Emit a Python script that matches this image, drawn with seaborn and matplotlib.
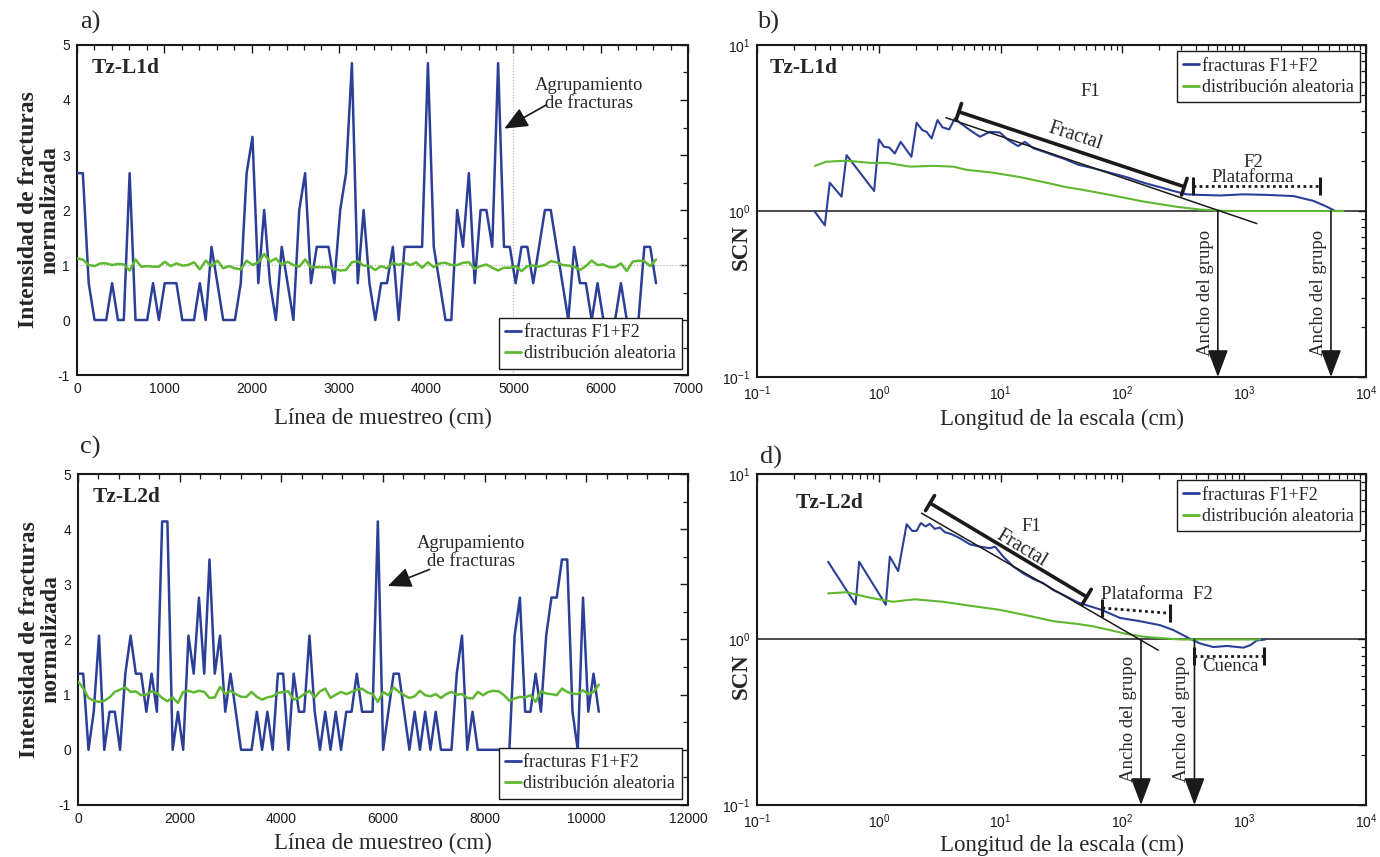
import numpy as np
import pandas as pd
import matplotlib
matplotlib.use("Agg")
import matplotlib.pyplot as plt
import matplotlib.ticker as mticker
from matplotlib.lines import Line2D
import seaborn as sns

# ---------------- data ----------------
# panel a: Tz-L1d sampling line (sample spacing ~67 cm)
a_step = 67.0
a_fract = [2.67, 2.67, 0.67, 0, 0, 0, 0.67, 0, 0, 2.67,
           0, 0, 0, 0.67, 0, 0.67, 0.67, 0.67, 0, 0,
           0, 0.67, 0, 1.33, 0.67, 0, 0, 0, 0.67, 2.67,
           3.33, 0.67, 2.0, 0.67, 0, 1.33, 0.67, 0, 2.0, 2.67,
           0.67, 1.33, 1.33, 1.33, 0.67, 2.0, 2.67, 4.67, 0.67, 2.0,
           0.67, 0, 0.67, 0.67, 1.33, 0, 1.33, 1.33, 1.33, 1.33,
           4.67, 1.33, 0.67, 0, 0, 2.0, 1.33, 2.67, 0.67, 2.0,
           2.0, 1.33, 4.67, 1.33, 1.33, 0.67, 1.33, 1.33, 0.67, 1.33,
           2.0, 2.0, 1.33, 0.67, 0, 1.33, 0.67, 0.67, 0, 0.67,
           0, 0, 0, 0.67, 0, 0, 0, 1.33, 1.33, 0.67]
a_rand = [1.12, 1.10, 1.00, 0.98, 1.03, 1.03, 1.00, 1.02, 1.01, 0.90,
          1.10, 0.97, 0.98, 0.97, 0.97, 1.06, 0.98, 1.03, 0.99, 1.00,
          1.05, 0.92, 1.08, 0.98, 1.08, 0.94, 0.98, 0.94, 0.92, 1.08,
          1.00, 1.05, 1.20, 1.06, 1.12, 1.00, 1.06, 1.00, 0.97, 1.10,
          0.96, 0.96, 0.96, 0.96, 0.93, 0.90, 0.91, 1.05, 1.07, 0.99,
          0.98, 0.91, 0.98, 0.94, 1.04, 1.00, 1.04, 1.00, 1.05, 0.95,
          1.05, 0.96, 1.03, 1.04, 1.00, 1.00, 1.04, 1.05, 0.93, 0.98,
          1.01, 0.95, 0.90, 0.95, 0.95, 0.98, 0.89, 0.98, 0.99, 0.97,
          1.00, 1.07, 1.05, 1.00, 0.99, 0.97, 0.91, 0.98, 1.08, 1.00,
          1.01, 0.96, 0.96, 1.03, 0.89, 1.06, 1.08, 1.07, 0.98, 1.10]

# panel c: Tz-L2d sampling line (sample spacing ~103.5 cm)
c_step = 103.5
c_fract = [1.38, 1.38, 0, 0.69, 2.07, 0, 0.69, 0.69, 0, 1.38,
           2.07, 1.38, 1.38, 0.69, 1.38, 0.69, 4.14, 4.14, 0, 0.69,
           0, 2.07, 1.38, 2.76, 1.38, 3.45, 1.38, 2.07, 0.69, 1.38,
           0.69, 0, 0, 0, 0.69, 0, 0.69, 0, 1.38, 1.38,
           0, 1.38, 0.69, 0.69, 2.07, 0.69, 0, 0.69, 0, 0.69,
           0, 0.69, 0.69, 1.38, 0.69, 0.69, 0.69, 4.14, 0, 0.69,
           1.38, 1.38, 0.69, 0, 0.69, 0, 0.69, 0, 0.69, 0,
           0, 0, 1.38, 2.07, 0, 0.69, 0, 0, 0, 0,
           0, 0, 0, 2.07, 2.76, 0.69, 0.69, 1.38, 0.69, 2.07,
           2.76, 2.76, 3.45, 3.45, 0.69, 0, 2.76, 0.69, 1.38, 0.69]
c_rand = [1.24, 1.12, 0.94, 0.89, 0.87, 0.89, 0.95, 1.05, 1.09, 1.13,
          1.05, 1.06, 0.99, 1.00, 1.06, 1.03, 0.94, 0.88, 0.95, 0.85,
          1.05, 1.07, 1.04, 1.07, 1.05, 0.94, 0.95, 1.14, 1.01, 1.07,
          1.01, 0.96, 0.96, 1.05, 0.96, 0.91, 0.95, 0.97, 1.03, 1.05,
          1.06, 0.91, 0.94, 1.01, 1.07, 0.95, 1.06, 1.11, 0.94, 1.00,
          1.05, 1.01, 1.05, 1.09, 1.11, 1.04, 1.01, 0.87, 1.05, 0.99,
          1.13, 1.05, 0.99, 0.94, 0.97, 1.07, 0.99, 0.97, 1.01, 0.94,
          1.01, 1.05, 1.00, 1.01, 0.94, 0.93, 1.05, 0.99, 1.05, 1.07,
          1.06, 0.99, 0.89, 0.93, 0.96, 0.95, 0.99, 0.87, 1.06, 1.02,
          1.01, 0.99, 1.11, 1.05, 1.02, 1.01, 1.08, 1.01, 1.05, 1.18]

# panel b: SCN vs scale, Tz-L1d
b_scale = [0.298, 0.36, 0.395, 0.494, 0.543, 0.914, 1.0, 1.1, 1.22, 1.35,
           1.51, 1.85, 2.04, 2.28, 2.46, 2.71, 3.03, 3.33, 3.78, 4.21,
           4.63, 5.59, 6.76, 8.16, 9.87, 11.5, 13.9, 15.8, 18.5, 22.4,
           27.0, 32.7, 43.4, 57.7, 79, 108, 149, 204, 262, 337,
           434, 634, 986, 1532, 2537, 3705, 4773, 5585, 6535]
b_fract = [0.99, 0.82, 1.48, 1.22, 2.17, 1.32, 2.70, 2.44, 2.41, 2.22,
           2.61, 2.12, 3.40, 3.07, 3.00, 2.74, 3.53, 3.19, 3.10, 3.62,
           3.40, 3.07, 2.80, 3.00, 2.97, 2.68, 2.46, 2.61, 2.39, 2.28,
           2.17, 2.07, 1.90, 1.81, 1.70, 1.60, 1.48, 1.39, 1.32, 1.26,
           1.25, 1.24, 1.26, 1.25, 1.23, 1.15, 1.06, 1.00, 1.00]
b_rscale = [0.298, 0.37, 0.543, 0.84, 1.16, 1.8, 2.79, 4.08, 5.25, 8.7,
            14.4, 23.8, 34.8, 44.8, 79, 149, 279, 434, 718, 1850, 6535]
b_rand = [1.87, 1.98, 2.01, 1.95, 1.95, 1.85, 1.87, 1.85, 1.77, 1.70,
          1.60, 1.48, 1.39, 1.35, 1.25, 1.14, 1.06, 1.02, 1.00, 1.00, 1.00]

# panel d: SCN vs scale, Tz-L2d
d_scale = [0.383, 0.644, 0.689, 1.14, 1.23, 1.44, 1.69, 1.88, 2.04, 2.21,
           2.42, 2.62, 2.88, 3.17, 3.48, 3.95, 4.63, 5.59, 6.76, 8.17,
           8.98, 10.5, 12.7, 15.3, 18.5, 22.4, 27.0, 32.7, 43.4, 67.4,
           95.4, 139, 204, 262, 359, 434, 558, 718, 986, 1118, 1268, 1484]
d_fract = [2.95, 1.63, 2.95, 1.62, 3.17, 2.59, 4.97, 4.53, 4.53, 5.05,
           4.82, 5.00, 4.66, 4.75, 4.45, 4.33, 4.09, 3.76, 3.64, 3.56,
           3.64, 3.17, 2.76, 2.51, 2.32, 2.19, 1.99, 1.86, 1.67, 1.51,
           1.35, 1.29, 1.22, 1.14, 1.01, 0.946, 0.90, 0.914, 0.893, 0.923, 0.986, 1.00]
d_rscale = [0.383, 0.543, 0.84, 1.31, 1.97, 3.37, 5.59, 9.86, 16.3, 27.0,
            43.4, 57.7, 79, 108, 149, 204, 300, 1349]
d_rand = [1.90, 1.93, 1.79, 1.69, 1.75, 1.69, 1.60, 1.51, 1.40, 1.29,
          1.24, 1.20, 1.14, 1.08, 1.04, 1.02, 1.00, 1.00]

series_labels = ["fracturas F1+F2", "distribución aleatoria"]

# ---------------- style ----------------
BLUE = "#2c3f98"
GREEN = "#5fb830"
SERIF = ["Liberation Serif", "DejaVu Serif"]
SANS = "Liberation Sans"

sns.set_theme(style="white")
plt.rcParams["font.family"] = SERIF
plt.rcParams["axes.unicode_minus"] = False
plt.rcParams["mathtext.fontset"] = "custom"
plt.rcParams["mathtext.rm"] = "Liberation Sans"
plt.rcParams["mathtext.it"] = "Liberation Sans:italic"
plt.rcParams["mathtext.bf"] = "Liberation Sans:bold"

fig = plt.figure(figsize=(13.8, 8.57), dpi=100)
ax_a = fig.add_axes([0.0558, 0.5624, 0.4428, 0.3851])
ax_b = fig.add_axes([0.5486, 0.5601, 0.4413, 0.3874])
ax_c = fig.add_axes([0.0565, 0.0607, 0.4420, 0.3862])
ax_d = fig.add_axes([0.5486, 0.0607, 0.4413, 0.3862])

LBL = 16.5      # axis label size
ANN = 13.5      # annotation size


def style_axes(ax):
    for s in ax.spines.values():
        s.set_color("k")
        s.set_linewidth(1.5)
    ax.tick_params(which="both", direction="in", top=True, right=True,
                   colors="k", labelcolor="k", labelfontfamily=SANS)
    ax.tick_params(which="major", length=6, width=1.0, labelsize=10, pad=5)
    ax.tick_params(which="minor", length=3.5, width=0.9)


def add_legend(ax, loc):
    handles = [Line2D([], [], color=BLUE, lw=2), Line2D([], [], color=GREEN, lw=2)]
    leg = ax.legend(handles=handles, labels=series_labels, loc=loc, fontsize=13,
                    frameon=True, fancybox=False, edgecolor="k", framealpha=1,
                    handlelength=0.85, handletextpad=0.15, borderpad=0.35,
                    labelspacing=0.25, borderaxespad=0.35)
    leg.get_frame().set_linewidth(1.0)
    leg.set_zorder(10)


def linear_panel(ax, step, fract, rand, xmax, xmajor, xminor, tag):
    x = np.arange(len(fract)) * step
    df = pd.DataFrame({"x": x, "fract": fract, "rand": rand})
    sns.lineplot(data=df, x="x", y="fract", ax=ax, color=BLUE, lw=1.8,
                 estimator=None, sort=False, zorder=3)
    sns.lineplot(data=df, x="x", y="rand", ax=ax, color=GREEN, lw=1.8,
                 estimator=None, sort=False, zorder=4)
    ax.set_xlim(0, xmax)
    ax.set_ylim(-1, 5)
    ax.xaxis.set_major_locator(mticker.MultipleLocator(xmajor))
    ax.xaxis.set_minor_locator(mticker.MultipleLocator(xminor))
    ax.yaxis.set_major_locator(mticker.MultipleLocator(1))
    ax.yaxis.set_minor_locator(mticker.MultipleLocator(0.5))
    style_axes(ax)
    ax.set_xlabel("Línea de muestreo (cm)", fontsize=LBL, family=SERIF)
    ax.set_ylabel("Intensidad de fracturas\nnormalizada", fontsize=17,
                  fontweight="bold", family=SERIF, linespacing=1.0)
    ax.text(0.024, 0.93, tag, transform=ax.transAxes, fontsize=15.5,
            fontweight="bold", ha="left", va="center", family=SERIF)
    add_legend(ax, "lower right")


def log_panel(ax, scale, fract, rscale, rand, tag, tagx, tagy):
    sns.lineplot(x=scale, y=fract, ax=ax, color=BLUE, lw=1.5,
                 estimator=None, sort=False, zorder=3)
    sns.lineplot(x=rscale, y=rand, ax=ax, color=GREEN, lw=1.5,
                 estimator=None, sort=False, zorder=4)
    ax.set_xscale("log")
    ax.set_yscale("log")
    ax.set_xlim(0.1, 1e4)
    ax.set_ylim(0.1, 10)
    ax.xaxis.set_major_locator(mticker.LogLocator(base=10, numticks=10))
    ax.xaxis.set_minor_locator(mticker.LogLocator(base=10, subs=np.arange(2, 10), numticks=10))
    ax.yaxis.set_major_locator(mticker.LogLocator(base=10, numticks=10))
    ax.yaxis.set_minor_locator(mticker.LogLocator(base=10, subs=np.arange(2, 10), numticks=10))
    ax.xaxis.set_minor_formatter(mticker.NullFormatter())
    ax.yaxis.set_minor_formatter(mticker.NullFormatter())
    style_axes(ax)
    ax.axhline(1.0, color="k", lw=1.1, zorder=2)
    ax.set_xlabel("Longitud de la escala (cm)", fontsize=LBL, family=SERIF)
    ax.set_ylabel("SCN", fontsize=16.5, fontweight="bold", family=SERIF)
    ax.text(tagx, tagy, tag, transform=ax.transAxes, fontsize=15.5,
            fontweight="bold", ha="left", va="center", family=SERIF)
    add_legend(ax, "upper right")


def down_arrow(ax, x):
    ax.annotate("", xy=(x, 0.1), xytext=(x, 1.0),
                arrowprops=dict(arrowstyle="-|>,head_length=0.85,head_width=0.32",
                                mutation_scale=20, lw=1.2, color="k",
                                shrinkA=0, shrinkB=0), zorder=5)


def bar(ax, p0, p1, lw=2.6):
    ax.annotate("", xy=p1, xytext=p0,
                arrowprops=dict(arrowstyle="|-|,widthA=0.45,widthB=0.45",
                                mutation_scale=14, lw=lw, color="k",
                                shrinkA=0, shrinkB=0), zorder=5)


def dotted_bar(ax, p0, p1):
    ax.plot([p0[0], p1[0]], [p0[1], p1[1]], color="k", lw=2.0,
            ls=(0, (1, 1.2)), zorder=5)
    ax.plot([p0[0], p1[0]], [p0[1], p1[1]], color="k", ls="none",
            marker="|", ms=13, mew=2.2, zorder=5)


# ---------------- panel a ----------------
linear_panel(ax_a, a_step, a_fract, a_rand, 7000, 1000, 200, "Tz-L1d")
ax_a.axvline(5000, color="#b0b0b0", lw=0.8, ls=":", zorder=1)
ax_a.axhline(1.0, color="#b0b0b0", lw=0.8, ls=":", zorder=1)
ax_a.text(5860, 4.10, "Agrupamiento\nde fracturas", fontsize=ANN, ha="center",
          va="center", linespacing=1.05, family=SERIF)
ax_a.annotate("", xy=(4895, 3.48), xytext=(5375, 3.91),
              arrowprops=dict(arrowstyle="-|>,head_length=0.8,head_width=0.35",
                              mutation_scale=18, lw=1.2, color="k",
                              shrinkA=0, shrinkB=0))

# ---------------- panel c ----------------
linear_panel(ax_c, c_step, c_fract, c_rand, 12000, 2000, 400, "Tz-L2d")
ax_c.text(7740, 3.58, "Agrupamiento\nde fracturas", fontsize=ANN, ha="center",
          va="center", linespacing=1.05, family=SERIF)
ax_c.annotate("", xy=(6096, 2.97), xytext=(6916, 3.27),
              arrowprops=dict(arrowstyle="-|>,head_length=0.8,head_width=0.35",
                              mutation_scale=18, lw=1.2, color="k",
                              shrinkA=0, shrinkB=0))

# ---------------- panel b ----------------
log_panel(ax_b, b_scale, b_fract, b_rscale, b_rand, "Tz-L1d", 0.021, 0.93)
ax_b.plot([3.55, 1268], [3.65, 0.84], color="k", lw=1.1, zorder=5)
bar(ax_b, (4.53, 3.96), (322, 1.40))
ax_b.text(54.2, 5.21, "F1", fontsize=ANN, ha="center", va="center")
ax_b.text(40.8, 2.83, "Fractal", fontsize=14.5, ha="center", va="center",
          rotation=-18)
dotted_bar(ax_b, (378, 1.41), (4150, 1.41))
ax_b.text(1183, 1.97, "F2", fontsize=ANN, ha="center", va="center")
ax_b.text(1183, 1.59, "Plataforma", fontsize=ANN, ha="center", va="center")
down_arrow(ax_b, 607)
down_arrow(ax_b, 5150)
ax_b.text(478, 0.321, "Ancho del grupo", rotation=90, fontsize=ANN,
          ha="center", va="center")
ax_b.text(4055, 0.321, "Ancho del grupo", rotation=90, fontsize=ANN,
          ha="center", va="center")

# ---------------- panel d ----------------
log_panel(ax_d, d_scale, d_fract, d_rscale, d_rand, "Tz-L2d", 0.063, 0.912)
ax_d.plot([2.24, 197], [5.8, 0.861], color="k", lw=1.1, zorder=5)
bar(ax_d, (2.63, 6.67), (50.9, 1.81))
ax_d.text(18.0, 4.81, "F1", fontsize=ANN, ha="center", va="center")
ax_d.text(14.9, 3.56, "Fractal", fontsize=14.5, ha="center", va="center",
          rotation=-31)
dotted_bar(ax_d, (68.4, 1.55), (247, 1.44))
ax_d.text(191, 1.88, "Plataforma  F2", fontsize=ANN, ha="center", va="center")
dotted_bar(ax_d, (390, 0.80), (1439, 0.80))
ax_d.text(778, 0.682, "Cuenca", fontsize=ANN, ha="center", va="center")
down_arrow(ax_d, 142)
down_arrow(ax_d, 390)
ax_d.text(112, 0.332, "Ancho del grupo", rotation=90, fontsize=ANN,
          ha="center", va="center")
ax_d.text(307, 0.332, "Ancho del grupo", rotation=90, fontsize=ANN,
          ha="center", va="center")

# label positions
for ax in (ax_a, ax_c):
    ax.yaxis.set_label_coords(-0.028, 0.5)
for ax in (ax_b, ax_d):
    ax.yaxis.set_label_coords(-0.008, 0.39)
ax_a.xaxis.set_label_coords(0.5, -0.1)
ax_c.xaxis.set_label_coords(0.5, -0.085)
ax_b.xaxis.set_label_coords(0.5, -0.095)
ax_d.xaxis.set_label_coords(0.5, -0.09)

# panel letters
fig.text(80 / 1380, 1 - 22 / 857, "a)", fontsize=19, ha="left", va="center")
fig.text(757 / 1380, 1 - 22 / 857, "b)", fontsize=19, ha="left", va="center")
fig.text(80 / 1380, 1 - 447 / 857, "c)", fontsize=19, ha="left", va="center")
fig.text(760 / 1380, 1 - 457 / 857, "d)", fontsize=19, ha="left", va="center")

fig.savefig("out.png", dpi=100)
